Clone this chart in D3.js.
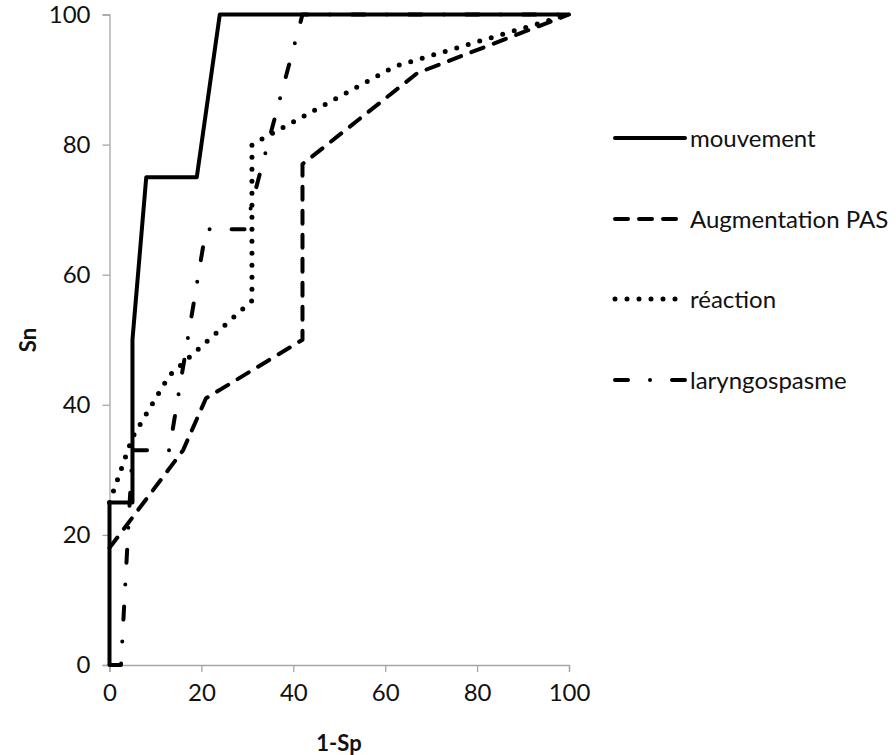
<!DOCTYPE html>
<html>
<head>
<meta charset="utf-8">
<script src="https://cdn.jsdelivr.net/npm/d3@7"></script>
<style>
  html, body { margin: 0; padding: 0; background: #fff; }
  svg { display: block; }
  text { font-family: Lato, "Open Sans", sans-serif; fill: #111; }
</style>
</head>
<body>
<svg id="chart" width="896" height="755"></svg>
<script>
// ---- data ----
const seriesNames = ["mouvement", "Augmentation PAS", "réaction", "laryngospasme"];
const mouvementX = [0, 0, 5, 5, 8, 19, 24, 100];
const mouvementY = [0, 25, 25, 50, 75, 75, 100, 100];
const augmentationX = [0, 16, 21, 42, 42, 67, 100];
const augmentationY = [18, 33, 41, 50, 77, 91, 100];
const reactionX = [0, 5, 13, 31, 31, 62, 100];
const reactionY = [25, 35, 44.5, 56, 80, 92, 100];
const laryngoX = [0, 2.5, 5, 13, 21, 29.5, 42, 100];
const laryngoY = [0, 0, 33, 33, 67, 67, 100, 100];
const xTicks = [0, 20, 40, 60, 80, 100];
const yTicks = [0, 20, 40, 60, 80, 100];
const xTitle = "1-Sp";
const yTitle = "Sn";

const series = [
  { name: seriesNames[0], xs: mouvementX, ys: mouvementY, dash: null, w: 4 },
  { name: seriesNames[1], xs: augmentationX, ys: augmentationY, dash: "13,11", w: 4 },
  { name: seriesNames[2], xs: reactionX, ys: reactionY, dash: "0,12", w: 5 },
  { name: seriesNames[3], xs: laryngoX, ys: laryngoY, dash: "13,22,0,22", w: 4 }
];

// ---- layout ----
const svg = d3.select("#chart");
const x = d3.scaleLinear().domain([0, 100]).range([109.5, 569]);
const y = d3.scaleLinear().domain([0, 100]).range([665, 14.5]);
const axisColor = "#a6a6a6";

// axes
const xAxis = svg.append("g").attr("transform", `translate(0,${y(0)})`)
  .call(d3.axisBottom(x).tickValues(xTicks).tickSize(7).tickPadding(12));
const yAxis = svg.append("g").attr("transform", `translate(${x(0)},0)`)
  .call(d3.axisLeft(y).tickValues(yTicks).tickSize(7).tickPadding(12));
[xAxis, yAxis].forEach(g => {
  g.select(".domain").attr("stroke", axisColor).attr("stroke-width", 1.3);
  g.selectAll(".tick line").attr("stroke", axisColor).attr("stroke-width", 1.3);
  g.selectAll(".tick text").attr("font-size", 24).attr("font-family", "Lato").attr("fill", "#111");
});

// axis titles
svg.append("text").attr("x", 339).attr("y", 751).attr("text-anchor", "middle")
  .attr("font-size", 22).attr("font-weight", "bold").text(xTitle);
svg.append("text").attr("transform", "translate(36,340) rotate(-90)")
  .attr("text-anchor", "middle").attr("font-size", 22).attr("font-weight", "bold").text(yTitle);

// lines
const line = d3.line().x(d => x(d[0])).y(d => y(d[1]));
series.forEach(s => {
  const pts = s.xs.map((v, i) => [v, s.ys[i]]);
  svg.append("path").datum(pts)
    .attr("d", line)
    .attr("fill", "none")
    .attr("stroke", "#000")
    .attr("stroke-width", s.w)
    .attr("stroke-linejoin", "round")
    .attr("stroke-linecap", s.dash ? "round" : "butt")
    .attr("stroke-dasharray", s.dash);
});

// legend
const legendY = [138, 219, 299, 380];
series.forEach((s, i) => {
  const g = svg.append("g");
  g.append("line").attr("x1", 615).attr("x2", 685).attr("y1", legendY[i]).attr("y2", legendY[i])
    .attr("stroke", "#000").attr("stroke-width", s.w)
    .attr("stroke-linecap", "round")
    .attr("stroke-dasharray", s.dash);
  g.append("text").attr("x", 690).attr("y", legendY[i] + 9).attr("font-size", 24).text(s.name);
});
</script>
</body>
</html>
